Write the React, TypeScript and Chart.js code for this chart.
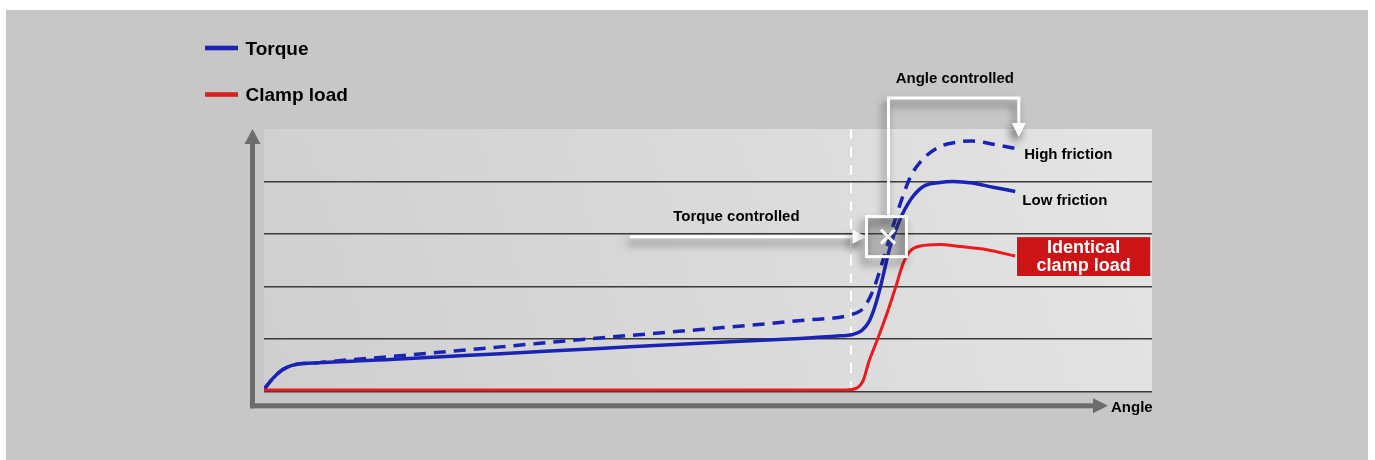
import React, { useEffect, useRef } from "react";
import { Chart, registerables } from "chart.js";

Chart.register(...registerables);

// ---- data (angle in arbitrary units 0..100, torque / load 0..5) ----
const ANGLE_LOW = [0, 1.0, 1.8, 2.7, 3.7, 6.3, 15.3, 26.6, 37.8, 49.1, 60.4, 64.9, 66.2, 67.3, 68.1, 68.8, 69.4, 70.5, 71.6, 72.8, 74.2, 76.1, 77.6, 79.8, 82.1, 84.6];
const TORQUE_LOW = [0.04, 0.25, 0.38, 0.47, 0.52, 0.55, 0.62, 0.72, 0.82, 0.92, 1.01, 1.06, 1.08, 1.16, 1.32, 1.62, 1.98, 2.75, 3.27, 3.65, 3.9, 3.98, 4.0, 3.97, 3.89, 3.81];

const ANGLE_HIGH = [0, 1.0, 1.8, 2.7, 3.7, 6.3, 7.4, 15.3, 26.6, 37.8, 49.1, 60.9, 66.0, 67.5, 68.6, 69.7, 70.8, 71.9, 72.8, 73.9, 75.8, 78.0, 79.8, 82.1, 84.6];
const TORQUE_HIGH = [0.04, 0.25, 0.38, 0.47, 0.52, 0.55, 0.57, 0.68, 0.85, 1.02, 1.18, 1.36, 1.46, 1.59, 1.93, 2.5, 3.13, 3.7, 4.09, 4.37, 4.64, 4.75, 4.77, 4.71, 4.63];

const ANGLE_CLAMP = [0, 30.0, 65.5, 66.8, 67.5, 68.1, 69.1, 70.2, 71.1, 72.0, 72.8, 73.9, 76.1, 78.4, 81.4, 84.6];
const CLAMP_LOAD = [0.03, 0.03, 0.03, 0.07, 0.22, 0.56, 1.0, 1.51, 1.97, 2.45, 2.68, 2.77, 2.8, 2.76, 2.7, 2.58];

const Y_GRID = [0, 1, 2, 3, 4];
const SNUG_ANGLE = 66.1;

const LEGEND_ITEMS = ["Torque", "Clamp load"];
const X_LABEL = "Angle";
const TORQUE_CTRL_LABEL = "Torque controlled";
const ANGLE_CTRL_LABEL = "Angle controlled";
const HIGH_LABEL = "High friction";
const LOW_LABEL = "Low friction";
const CLAMP_BOX_LINES = ["Identical", "clamp load"];

// annotation anchors (data units)
const CROSS_AT = { x: 70.1, y: 2.95 };
const ANGLE_PATH_TOP = 5.59;
const ANGLE_PATH_RIGHT = 85.0;
const ANGLE_PATH_TIP = 4.85;
const TORQUE_ARROW_START = 41.2;
const TORQUE_LABEL_AT = { x: 53.2, y: 3.33 };
const ANGLE_LABEL_AT = { x: 77.8, y: 5.95 };
const HIGH_LABEL_AT = { x: 85.6, y: 4.5 };
const LOW_LABEL_AT = { x: 85.4, y: 3.64 };
const CLAMP_BOX = { x0: 84.8, x1: 99.8, y0: 2.94, y1: 2.2 };

const BLUE = "#1b23b5";
const RED = "#ec1a1c";
const FONT = '"Liberation Sans", Arial, Helvetica, sans-serif';

function toXY(xs: number[], ys: number[]) {
  return xs.map((x, i) => ({ x, y: ys[i] }));
}

const decorPlugin = {
  id: "decor",
  beforeDraw(chart: any) {
    const ctx = chart.ctx;
    const { left, right, top, bottom } = chart.chartArea;
    ctx.save();
    // gray panel
    ctx.fillStyle = "#c7c7c7";
    ctx.fillRect(6, 10, 1362, 450);
    // plot background
    const g = ctx.createLinearGradient(left, bottom, right, top);
    g.addColorStop(0, "#cfcfcf");
    g.addColorStop(1, "#e4e4e4");
    ctx.fillStyle = g;
    ctx.fillRect(left, top, right - left, bottom - top);
    // grid lines
    const ys = chart.scales.y;
    ctx.strokeStyle = "#3a3a3a";
    ctx.lineWidth = 1.5;
    Y_GRID.forEach((v) => {
      const py = Math.round(ys.getPixelForValue(v)) - 0.25;
      ctx.beginPath();
      ctx.moveTo(left, py);
      ctx.lineTo(right, py);
      ctx.stroke();
    });
    // snug point dashed line
    const sx = chart.scales.x.getPixelForValue(SNUG_ANGLE);
    ctx.strokeStyle = "rgba(255,255,255,0.95)";
    ctx.lineWidth = 2;
    ctx.setLineDash([10, 8]);
    ctx.beginPath();
    ctx.moveTo(sx, top);
    ctx.lineTo(sx, bottom);
    ctx.stroke();
    ctx.setLineDash([]);

    // axis arrows
    ctx.fillStyle = "#6c6c6c";
    const ax = left - 11.5;
    const ay = bottom + 14.3;
    ctx.fillRect(ax - 2.5, top + 15, 5, ay + 2.5 - (top + 15));
    ctx.beginPath();
    ctx.moveTo(ax, top);
    ctx.lineTo(ax - 8, top + 15);
    ctx.lineTo(ax + 8, top + 15);
    ctx.closePath();
    ctx.fill();
    const tipX = right - 44;
    ctx.fillRect(ax - 2.5, ay - 2.5, tipX - 15 - (ax - 2.5), 5);
    ctx.beginPath();
    ctx.moveTo(tipX, ay);
    ctx.lineTo(tipX - 15, ay - 7.5);
    ctx.lineTo(tipX - 15, ay + 7.5);
    ctx.closePath();
    ctx.fill();

    ctx.fillStyle = "#000";
    ctx.font = `bold 15px ${FONT}`;
    ctx.textBaseline = "middle";
    ctx.textAlign = "left";
    ctx.fillText(X_LABEL, tipX + 3, ay + 2.5);

    // legend
    const legendColors = [BLUE, "#d81f22"];
    const legendY = [48, 94.5];
    LEGEND_ITEMS.forEach((label, i) => {
      ctx.fillStyle = legendColors[i];
      ctx.fillRect(205, legendY[i] - 2.3, 33, 4.6);
      ctx.fillStyle = "#000";
      ctx.font = `bold 19px ${FONT}`;
      ctx.fillText(label, 245.5, legendY[i] + 1.5);
    });
    ctx.restore();
  },
  afterDatasetsDraw(chart: any) {
    const ctx = chart.ctx;
    const xs = chart.scales.x;
    const ys = chart.scales.y;
    const px = (v: number) => xs.getPixelForValue(v);
    const py = (v: number) => ys.getPixelForValue(v);
    ctx.save();

    const cx = px(CROSS_AT.x);
    const cy = py(CROSS_AT.y);
    const half = 20;

    const shadowOn = () => {
      ctx.shadowColor = "rgba(0,0,0,0.55)";
      ctx.shadowBlur = 9;
      ctx.shadowOffsetX = -3;
      ctx.shadowOffsetY = 6;
    };
    const shadowOff = () => {
      ctx.shadowColor = "transparent";
      ctx.shadowBlur = 0;
      ctx.shadowOffsetX = 0;
      ctx.shadowOffsetY = 0;
    };

    // box interior
    ctx.fillStyle = "rgba(70,70,70,0.3)";
    ctx.fillRect(cx - half, cy - half, half * 2, half * 2);

    ctx.strokeStyle = "#ffffff";
    ctx.fillStyle = "#ffffff";
    ctx.lineWidth = 3;
    ctx.lineJoin = "miter";
    shadowOn();
    // torque controlled arrow
    const tipX = cx - half;
    ctx.beginPath();
    ctx.moveTo(px(TORQUE_ARROW_START), cy);
    ctx.lineTo(tipX - 12, cy);
    ctx.stroke();
    ctx.beginPath();
    ctx.moveTo(tipX, cy);
    ctx.lineTo(tipX - 14, cy - 7);
    ctx.lineTo(tipX - 14, cy + 7);
    ctx.closePath();
    ctx.fill();

    // angle controlled path
    const vx = cx + 2;
    const rx = px(ANGLE_PATH_RIGHT);
    const topY = py(ANGLE_PATH_TOP);
    const tipY = py(ANGLE_PATH_TIP);
    ctx.beginPath();
    ctx.moveTo(vx, cy - half);
    ctx.lineTo(vx, topY);
    ctx.lineTo(rx, topY);
    ctx.lineTo(rx, tipY - 12);
    ctx.stroke();
    ctx.beginPath();
    ctx.moveTo(rx, tipY);
    ctx.lineTo(rx - 7, tipY - 14);
    ctx.lineTo(rx + 7, tipY - 14);
    ctx.closePath();
    ctx.fill();

    // box
    ctx.strokeRect(cx - half, cy - half, half * 2, half * 2);
    shadowOff();
    // cross
    ctx.lineWidth = 3;
    ctx.beginPath();
    ctx.moveTo(cx - 5.5, cy - 7);
    ctx.lineTo(cx + 8.5, cy + 7);
    ctx.moveTo(cx + 8.5, cy - 7);
    ctx.lineTo(cx - 5.5, cy + 7);
    ctx.stroke();

    // labels
    ctx.fillStyle = "#000";
    ctx.font = `bold 15px ${FONT}`;
    ctx.textBaseline = "middle";
    ctx.textAlign = "center";
    ctx.fillText(TORQUE_CTRL_LABEL, px(TORQUE_LABEL_AT.x), py(TORQUE_LABEL_AT.y));
    ctx.fillText(ANGLE_CTRL_LABEL, px(ANGLE_LABEL_AT.x), py(ANGLE_LABEL_AT.y));
    ctx.textAlign = "left";
    ctx.fillText(HIGH_LABEL, px(HIGH_LABEL_AT.x), py(HIGH_LABEL_AT.y));
    ctx.fillText(LOW_LABEL, px(LOW_LABEL_AT.x), py(LOW_LABEL_AT.y));

    // clamp load box
    const bx0 = px(CLAMP_BOX.x0);
    const bx1 = px(CLAMP_BOX.x1);
    const by0 = py(CLAMP_BOX.y0);
    const by1 = py(CLAMP_BOX.y1);
    ctx.fillStyle = "#cc1316";
    ctx.fillRect(bx0, by0, bx1 - bx0, by1 - by0);
    ctx.fillStyle = "#ffffff";
    ctx.font = `bold 18px ${FONT}`;
    ctx.textAlign = "center";
    const bcx = (bx0 + bx1) / 2;
    ctx.fillText(CLAMP_BOX_LINES[0], bcx, by0 + 10.5);
    ctx.fillText(CLAMP_BOX_LINES[1], bcx, by0 + 28.5);
    ctx.restore();
  },
};

export default function App() {
  const ref = useRef<HTMLCanvasElement | null>(null);
  useEffect(() => {
    if (!ref.current) return;
    const chart = new Chart(ref.current, {
      type: "line",
      data: {
        datasets: [
          {
            label: "Clamp load",
            data: toXY(ANGLE_CLAMP, CLAMP_LOAD),
            borderColor: RED,
            borderWidth: 3,
            pointRadius: 0,
            cubicInterpolationMode: "monotone",
            fill: false,
          },
          {
            label: "Torque (high friction)",
            data: toXY(ANGLE_HIGH, TORQUE_HIGH),
            borderColor: BLUE,
            borderWidth: 3.5,
            borderDash: [12, 8],
            pointRadius: 0,
            cubicInterpolationMode: "monotone",
            fill: false,
          },
          {
            label: "Torque (low friction)",
            data: toXY(ANGLE_LOW, TORQUE_LOW),
            borderColor: BLUE,
            borderWidth: 3.5,
            pointRadius: 0,
            cubicInterpolationMode: "monotone",
            fill: false,
          },
        ],
      },
      options: {
        animation: false,
        responsive: true,
        maintainAspectRatio: false,
        layout: { padding: { left: 264, right: 223, top: 129, bottom: 68.5 } },
        plugins: { legend: { display: false }, tooltip: { enabled: false } },
        scales: {
          x: { type: "linear", min: 0, max: 100, display: false },
          y: { type: "linear", min: 0, max: 5, display: false },
        },
      },
      plugins: [decorPlugin],
    } as any);
    return () => chart.destroy();
  }, []);
  return (
    <div style={{ position: "fixed", left: 0, top: 0, width: 1375, height: 460, background: "#ffffff" }}>
      <canvas ref={ref} />
    </div>
  );
}
